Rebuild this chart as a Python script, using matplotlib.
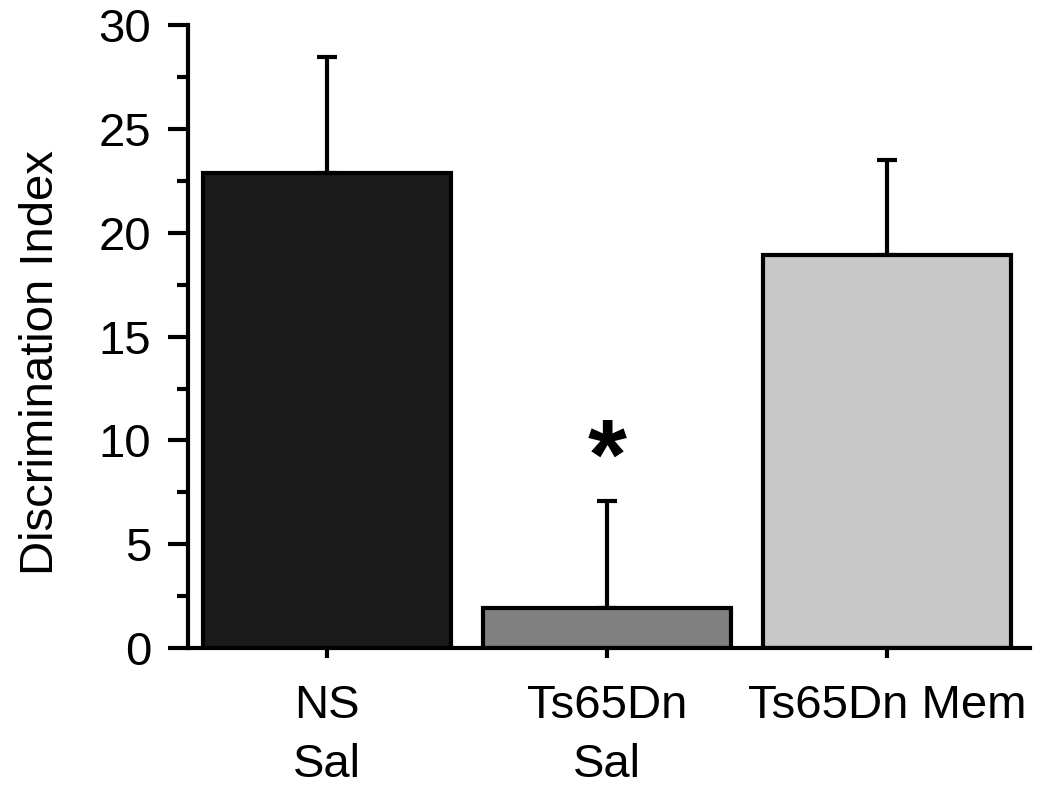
import matplotlib
matplotlib.use("Agg")
import matplotlib.pyplot as plt
from matplotlib.ticker import MultipleLocator

categories = ["NS\nSal", "Ts65Dn\nSal", "Ts65Dn Mem"]
means = [22.9, 1.95, 18.95]
errors = [5.55, 5.15, 4.55]
colors = ["#1a1a1a", "#808080", "#c8c8c8"]

plt.rcParams['font.family'] = ['Liberation Sans', 'DejaVu Sans']

fig = plt.figure(figsize=(10.5, 7.9), dpi=100)
ax = fig.add_axes([0.179, 0.1797, 0.802, 0.7883])

x = list(range(len(categories)))
ax.bar(x, means, width=0.886, color=colors, edgecolor="black", linewidth=3, zorder=2)
ax.errorbar(x, means, yerr=[[0]*len(means), errors], fmt="none", ecolor="black",
            elinewidth=3, capsize=7.5, capthick=3, zorder=1)

ax.text(1, 8.95, "*", ha="center", va="center", fontsize=72, fontweight="bold")

ax.set_xlim(-0.496, 2.51)
ax.set_ylim(0, 30)
ax.yaxis.set_major_locator(MultipleLocator(5))
ax.yaxis.set_minor_locator(MultipleLocator(2.5))
ax.set_xticks(x)
ax.set_xticklabels(categories, fontsize=34, linespacing=1.45)
ax.tick_params(axis="y", which="major", length=14.5, width=3, labelsize=34, pad=12)
ax.tick_params(axis="y", which="minor", length=8, width=3)
ax.tick_params(axis="x", length=7, width=3, pad=19)
for s in ["top", "right"]:
    ax.spines[s].set_visible(False)
for s in ["left", "bottom"]:
    ax.spines[s].set_linewidth(3)
ax.set_ylabel("Discrimination Index", fontsize=34)
ax.yaxis.set_label_coords(-0.148, 0.459)

fig.savefig("out.png", dpi=100)
